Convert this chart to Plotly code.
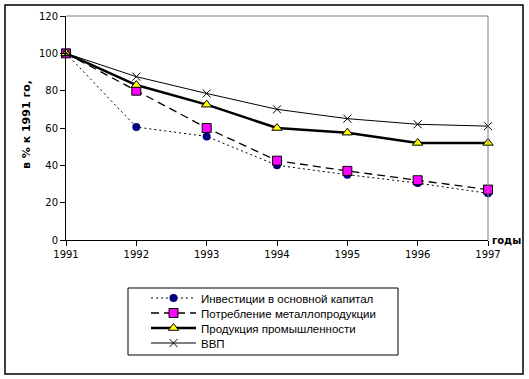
import plotly.graph_objects as go

years = [1991, 1992, 1993, 1994, 1995, 1996, 1997]
invest = [100, 60.5, 55.5, 40, 35, 30.5, 25]
metal = [100, 80, 60, 42.5, 37, 32, 27]
industry = [100, 83, 72.5, 60, 57.5, 52, 52]
gdp = [100, 87.5, 78.5, 70, 65, 62, 61]

names = ["Инвестиции в основной капитал", "Потребление металлопродукции",
         "Продукция промышленности", "ВВП"]

W, H = 529, 379
L, R, T, B = 66, 41, 16, 139
pw, ph = W - L - R, H - T - B

def px(x):
    return (x - L) / pw

def py(y):
    return (H - B - y) / ph

fig = go.Figure()
fig.add_trace(go.Scatter(x=years, y=invest, name=names[0], mode="lines+markers",
                         line=dict(color="black", width=1, dash="2px,3px"),
                         marker=dict(symbol="circle", size=8, color="#000080",
                                     line=dict(color="#000080", width=0)),
                         cliponaxis=False, legend="legend"))
fig.add_trace(go.Scatter(x=years, y=metal, name=names[1], mode="lines+markers",
                         line=dict(color="black", width=1.3, dash="8px,5px"),
                         marker=dict(symbol="square", size=9, color="#FF00FF",
                                     line=dict(color="black", width=1)),
                         cliponaxis=False, legend="legend2"))
fig.add_trace(go.Scatter(x=years, y=industry, name=names[2], mode="lines+markers",
                         line=dict(color="black", width=2.5),
                         marker=dict(symbol="triangle-up", size=9, color="#FFFF00",
                                     line=dict(color="black", width=1)),
                         cliponaxis=False, legend="legend3"))
fig.add_trace(go.Scatter(x=years, y=gdp, name=names[3], mode="lines+markers",
                         line=dict(color="black", width=1),
                         marker=dict(symbol="x-thin", size=8, color="black",
                                     line=dict(color="black", width=1)),
                         cliponaxis=False, legend="legend4"))

row_y = [298, 313, 328, 343]

def leg(yc):
    return dict(xref="container", yref="container", x=146 / W, y=1 - yc / H,
                xanchor="left", yanchor="middle",
                borderwidth=0, bgcolor="rgba(0,0,0,0)",
                font=dict(family="Liberation Sans", size=11.5, color="black"),
                tracegroupgap=0, itemwidth=45)

fig.update_layout(
    width=W, height=H,
    margin=dict(l=L, r=R, t=T, b=B, autoexpand=False),
    paper_bgcolor="white", plot_bgcolor="white",
    font=dict(family="DejaVu Sans", size=10, color="black"),
    showlegend=True,
    legend=leg(row_y[0]), legend2=leg(row_y[1]),
    legend3=leg(row_y[2]), legend4=leg(row_y[3]),
    xaxis=dict(range=[1991, 1997], tickvals=years, ticktext=[str(y) for y in years],
               tickangle=0, automargin=False,
               showgrid=False, zeroline=False, showline=True, linecolor="black",
               linewidth=1, ticks="outside", ticklen=5, tickcolor="black"),
    yaxis=dict(range=[0, 120], dtick=20, showgrid=False, zeroline=False,
               automargin=False,
               showline=True, linecolor="black", linewidth=1,
               ticks="outside", ticklen=5, tickcolor="black"),
    shapes=[
        dict(type="line", xref="paper", yref="paper", x0=0, x1=1, y0=1, y1=1,
             line=dict(color="#808080", width=1)),
        dict(type="line", xref="paper", yref="paper", x0=1, x1=1, y0=0, y1=1,
             line=dict(color="#808080", width=1)),
        dict(type="rect", xref="paper", yref="paper",
             x0=px(5), x1=px(523), y0=py(374), y1=py(5),
             line=dict(color="black", width=1.5), fillcolor="rgba(0,0,0,0)",
             layer="below"),
        dict(type="rect", xref="paper", yref="paper",
             x0=px(128), x1=px(398), y0=py(355), y1=py(288),
             line=dict(color="black", width=1), fillcolor="rgba(0,0,0,0)",
             layer="below"),
    ],
    annotations=[
        dict(text="<b>в % к 1991 го,</b>", xref="paper", yref="paper",
             x=px(26), y=py(125), textangle=-90, showarrow=False,
             font=dict(family="DejaVu Sans", size=11, color="black"),
             xanchor="center", yanchor="middle"),
        dict(text="<b>годы</b>", xref="paper", yref="paper",
             x=1, y=0, xanchor="left", yanchor="middle", xshift=2, showarrow=False,
             font=dict(family="DejaVu Sans", size=10, color="black")),
    ],
)

fig.write_html("out.html", config={"displayModeBar": False},
               post_script="document.body.style.margin='0';")
